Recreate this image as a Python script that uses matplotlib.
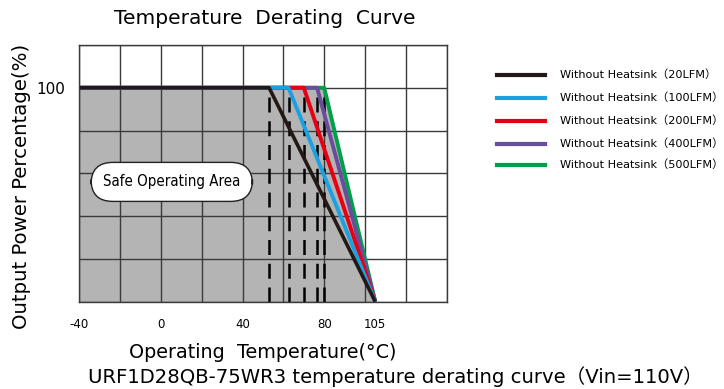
import matplotlib.pyplot as plt

# knee temperature for each airflow, all reach 0% at 105
labels = ['Without Heatsink（20LFM）', 'Without Heatsink（100LFM）', 'Without Heatsink（200LFM）',
          'Without Heatsink（400LFM）', 'Without Heatsink（500LFM）']
knees = [53, 62.5, 70, 76.5, 80]
colors = ['#231815', '#1ba1e2', '#e60012', '#6a4c9c', '#00a04a']
t_min, t_end = -40, 105
power_max = 100

xtick_vals = [-40, 0, 40, 80, 105]
ytick_vals = [100]

plt.rcParams['font.family'] = ['DejaVu Sans', 'Noto Sans CJK SC']

fig = plt.figure(figsize=(7.24, 3.89), dpi=100)
ax = fig.add_axes([0.1095, 0.2244, 0.5075, 0.66])
ax.set_xlim(-40, 140)
ax.set_ylim(0, 120)

# grid
for gx in range(-40, 141, 20):
    ax.axvline(gx, color='#3a3a3a', lw=1.0, zorder=1)
for gy in range(0, 121, 20):
    ax.axhline(gy, color='#3a3a3a', lw=1.0, zorder=1)

# safe area under the outer curve
ax.fill_between([t_min, knees[-1], t_end], [power_max, power_max, 0], 0,
                color='#b4b4b4', zorder=0.5, lw=0)

for k in knees:
    ax.plot([k, k], [0, power_max], color='black', lw=1.8, dashes=(6, 3.5), zorder=2)

for i in reversed(range(len(knees))):
    lw = 2.6 if i == 0 else 2.8
    ax.plot([t_min, knees[i], t_end], [power_max, power_max, 0], color=colors[i],
            lw=lw, zorder=3 + (len(knees) - i), solid_capstyle='butt')

for s in ax.spines.values():
    s.set_color('#3a3a3a')
    s.set_linewidth(1.0)

ax.set_xticks(xtick_vals)
ax.set_xticklabels([str(v) for v in xtick_vals], fontsize=8.5)
ax.set_yticks(ytick_vals)
ax.set_yticklabels([str(v) for v in ytick_vals], fontsize=11)
ax.tick_params(axis='x', length=0, pad=12)
ax.tick_params(axis='y', length=0, pad=10)

# safe operating area badge
ax.text(5.3, 56, 'Safe Operating Area', ha='center', va='center', fontsize=10.8,
        family=['Liberation Sans Narrow', 'DejaVu Sans'], stretch='condensed', zorder=7,
        bbox=dict(boxstyle='round,pad=0.8,rounding_size=1.45', fc='white', ec='#222222', lw=1.0))

fig.text(0.366, 0.952, 'Temperature  Derating  Curve', ha='center', va='center', fontsize=14.5)
fig.text(0.030, 0.522, 'Output Power Percentage(%)', ha='center', va='center',
         rotation=90, fontsize=14.2)
fig.text(0.363, 0.095, 'Operating  Temperature(°C)', ha='center', va='center', fontsize=13.8)
fig.text(0.546, 0.033, 'URF1D28QB-75WR3 temperature derating curve（Vin=110V）',
         ha='center', va='center', fontsize=14.1)

# legend drawn manually at the right
ys = [0.807, 0.748, 0.689, 0.630, 0.576]
for y, c, lab in zip(ys, colors, labels):
    fig.add_artist(plt.Line2D([0.686, 0.753], [y, y], color=c, lw=3, transform=fig.transFigure))
    fig.text(0.774, y, lab, ha='left', va='center', fontsize=8.1)

fig.savefig('out.png', dpi=100)
